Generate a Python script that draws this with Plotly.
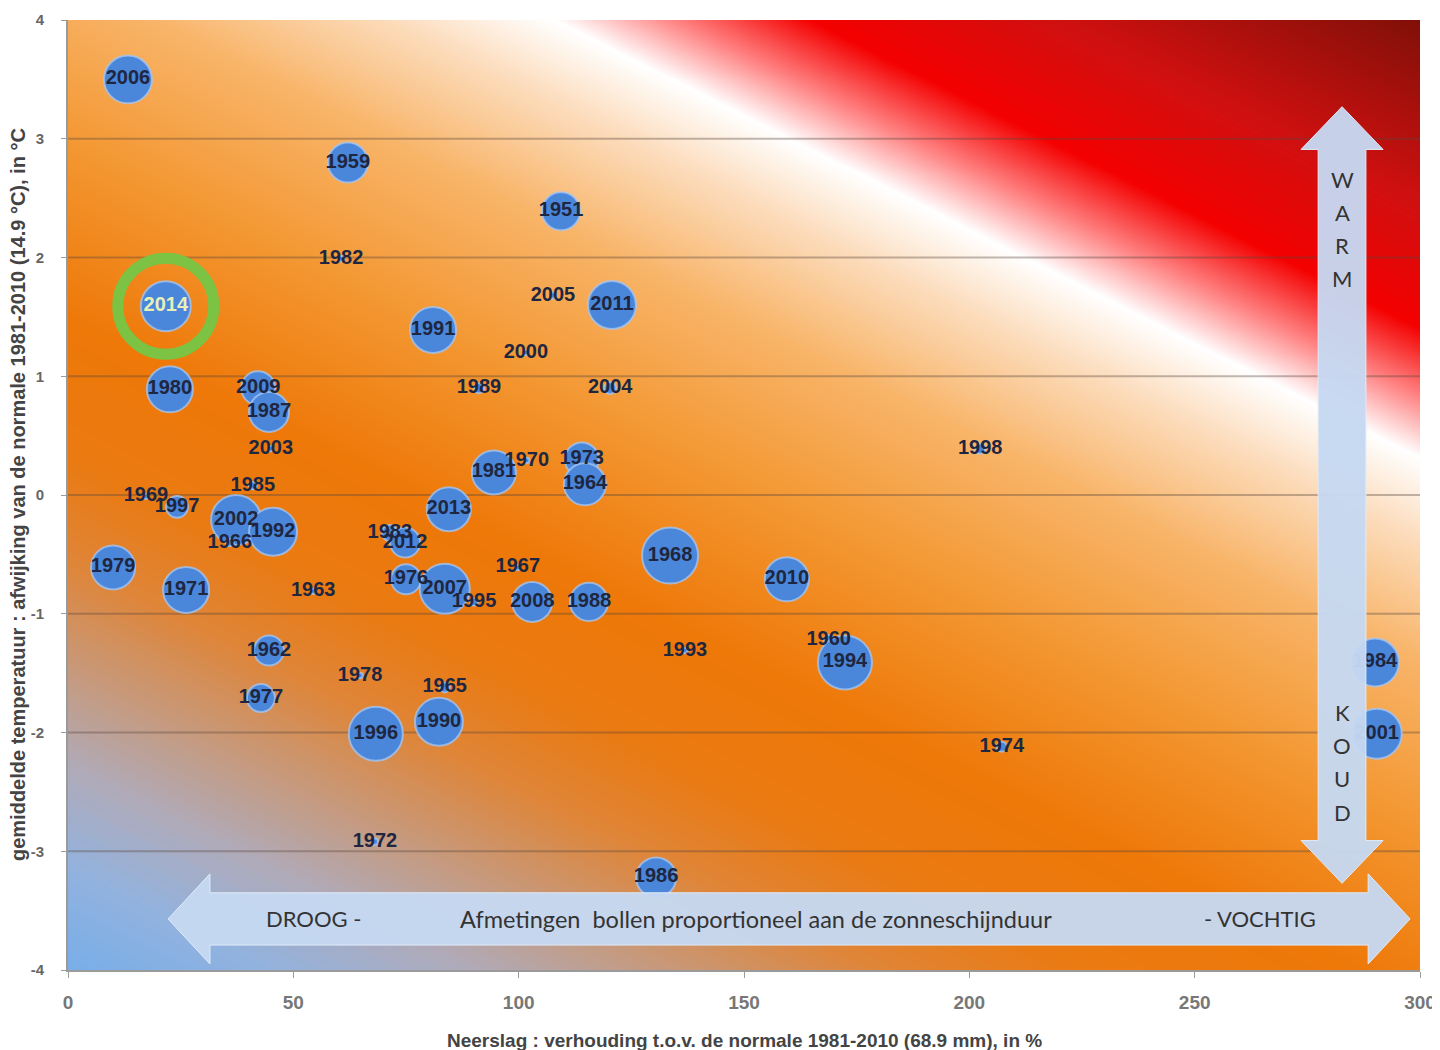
import numpy as np
import plotly.graph_objects as go

# ---------------- data ----------------
jaren = ["2006", "1959", "1951", "1982", "2014", "2005", "2011", "1991", "2000", "1980",
         "2009", "1987", "2003", "1989", "2004", "1998", "1981", "1970", "1973", "1964",
         "2013", "1969", "1997", "1985", "2002", "1992", "1966", "1983", "2012", "1979",
         "1971", "1963", "1976", "2007", "1995", "1967", "2008", "1988", "1968", "2010",
         "1993", "1960", "1994", "1962", "1978", "1965", "1977", "1996", "1990", "1972",
         "1986", "1974", "1984", "2001"]
neerslag = [13.3, 62.1, 109.4, 60.6, 21.7, 107.6, 120.7, 81.0, 101.6, 22.6,
            42.2, 44.6, 45.0, 91.2, 120.3, 202.4, 94.5, 101.8, 114.0, 114.7,
            84.5, 17.3, 24.2, 41.0, 37.3, 45.5, 35.9, 71.4, 74.8, 10.0,
            26.2, 54.4, 75.0, 83.6, 90.1, 99.8, 103.0, 115.6, 133.6, 159.5,
            136.9, 168.8, 172.4, 44.6, 64.8, 83.6, 42.8, 68.3, 82.3, 68.1,
            130.5, 207.2, 290.0, 290.4]
temp_afw = [3.50, 2.80, 2.39, 1.99, 1.59, 1.68, 1.60, 1.39, 1.20, 0.89,
            0.90, 0.70, 0.39, 0.90, 0.90, 0.39, 0.19, 0.29, 0.30, 0.09,
            -0.12, -0.01, -0.10, 0.08, -0.21, -0.31, -0.40, -0.32, -0.40, -0.61,
            -0.80, -0.81, -0.71, -0.79, -0.90, -0.61, -0.90, -0.90, -0.51, -0.71,
            -1.31, -1.22, -1.41, -1.31, -1.52, -1.62, -1.71, -2.01, -1.91, -2.92,
            -3.22, -2.12, -1.41, -2.01]
zonneschijn = [230, 160, 145, 3, 250, 4, 230, 212, 3, 212,
               115, 160, 3, 10, 14, 10, 194, 3, 115, 176,
               194, 3, 48, 6, 250, 230, 6, 26, 90, 194,
               212, 3, 90, 250, 6, 3, 160, 145, 314, 194,
               3, 10, 292, 90, 3, 10, 78, 292, 230, 4,
               160, 10, 230, 250]

x_ticks = [0, 50, 100, 150, 200, 250, 300]
y_ticks = [-4, -3, -2, -1, 0, 1, 2, 3, 4]
y_ticktext = ["-4", "-3", "-2", "-1", "0", "1", "2", "3", "4"]
highlight_jaar = "2014"

x_title = "Neerslag : verhouding t.o.v. de normale 1981-2010 (68.9 mm), in %"
y_title = "gemiddelde temperatuur : afwijking van de normale 1981-2010 (14.9 °C), in °C"

SANS = "Liberation Sans, Arial, sans-serif"

fig = go.Figure()

# ---------------- background gradient ----------------
gx = np.linspace(0, 300, 121)
gy = np.linspace(-4, 4, 81)
A, B = np.meshgrid(gx / 300.0, (gy + 4) / 8.0)
S = A + 1.39 * B
SMAX = 2.39
stops = [
    (0.00, "#78aee8"),
    (0.15, "#92b2de"),
    (0.30, "#b0aab8"),
    (0.45, "#c89878"),
    (0.60, "#df8538"),
    (0.75, "#ea7a12"),
    (0.95, "#ee7808"),
    (1.20, "#f39630"),
    (1.45, "#f8b468"),
    (1.63, "#fcdcbc"),
    (1.75, "#ffffff"),
    (1.84, "#ff8080"),
    (1.94, "#f40000"),
    (2.12, "#d01010"),
    (2.39, "#801008"),
]
bg_scale = [[s / SMAX, c] for s, c in stops]
fig.add_trace(go.Heatmap(x=gx, y=gy, z=S, zmin=0, zmax=SMAX, colorscale=bg_scale,
                         showscale=False, zsmooth="best", hoverinfo="skip"))

# ---------------- grid lines ----------------
glx, gly = [], []
for t in y_ticks[1:-1]:
    glx += [0, 300, None]
    gly += [t, t, None]
fig.add_trace(go.Scatter(x=glx, y=gly, mode="lines",
                         line=dict(color="rgba(90,70,60,0.38)", width=2),
                         hoverinfo="skip", showlegend=False))

# ---------------- bubbles ----------------
txt_cols = ["#e8f0b8" if j == highlight_jaar else "#1e2640" for j in jaren]
fig.add_trace(go.Scatter(
    x=neerslag, y=temp_afw, text=jaren, mode="markers+text",
    textposition="middle center",
    textfont=dict(family=SANS, size=20, color=txt_cols, weight="bold"),
    marker=dict(size=zonneschijn, sizemode="area", sizeref=0.2, sizemin=0,
                opacity=1, color="#4a86da",
                line=dict(color="rgba(165,200,245,0.75)", width=2)),
    hoverinfo="skip", showlegend=False))

# green ring around highlighted year
hi = jaren.index(highlight_jaar)
fig.add_trace(go.Scatter(
    x=[neerslag[hi]], y=[temp_afw[hi]], mode="markers",
    marker=dict(symbol="circle-open", size=96, color="#7cc243", opacity=1,
                line=dict(width=11, color="#7cc243")),
    hoverinfo="skip", showlegend=False))

# ---------------- block arrows ----------------
arrow_fill = "rgba(198,217,241,0.96)"
arrow_line = "rgba(225,235,248,1)"
# horizontal (DROOG - VOCHTIG)
hx0, hx1 = 22.2, 297.8      # tips
hh = 9.3                    # head length (x units)
hyc, hs, hw = -3.57, 0.22, 0.38
hpath = (f"M {hx0},{hyc} L {hx0+hh},{hyc+hw} L {hx0+hh},{hyc+hs} L {hx1-hh},{hyc+hs} "
         f"L {hx1-hh},{hyc+hw} L {hx1},{hyc} L {hx1-hh},{hyc-hw} L {hx1-hh},{hyc-hs} "
         f"L {hx0+hh},{hyc-hs} L {hx0+hh},{hyc-hw} Z")
# vertical (WARM - KOUD)
vxc, vs, vw = 282.7, 5.3, 9.1
vy0, vy1 = -3.27, 3.27
vh = 0.36
vpath = (f"M {vxc},{vy1} L {vxc+vw},{vy1-vh} L {vxc+vs},{vy1-vh} L {vxc+vs},{vy0+vh} "
         f"L {vxc+vw},{vy0+vh} L {vxc},{vy0} L {vxc-vw},{vy0+vh} L {vxc-vs},{vy0+vh} "
         f"L {vxc-vs},{vy1-vh} L {vxc-vw},{vy1-vh} Z")
shapes = [
    dict(type="path", path=vpath, xref="x", yref="y", fillcolor=arrow_fill,
         line=dict(color=arrow_line, width=1), layer="above"),
    dict(type="path", path=hpath, xref="x", yref="y", fillcolor=arrow_fill,
         line=dict(color=arrow_line, width=1), layer="above"),
]

LABF = dict(family="Lato, Open Sans, sans-serif", size=22, color="#333333")
LABF_MID = dict(family="Lato, Open Sans, sans-serif", size=23.5, color="#333333")
annotations = [
    dict(x=54.5, y=hyc, xref="x", yref="y", text="DROOG -", showarrow=False, font=LABF),
    dict(x=152.7, y=hyc, xref="x", yref="y",
         text="Afmetingen&nbsp; bollen proportioneel aan de zonneschijnduur",
         showarrow=False, font=LABF_MID),
    dict(x=264.5, y=hyc, xref="x", yref="y", text="- VOCHTIG", showarrow=False, font=LABF),
]
for i, ch in enumerate("WARM"):
    annotations.append(dict(x=vxc, y=2.66 - i * 0.278, xref="x", yref="y", text=ch,
                            showarrow=False, font=LABF))
for i, ch in enumerate("KOUD"):
    annotations.append(dict(x=vxc, y=-1.83 - i * 0.28, xref="x", yref="y", text=ch,
                            showarrow=False, font=LABF))
# axis titles
annotations.append(dict(x=0.5, y=0, xref="paper", yref="paper", yshift=-70,
                        xanchor="center", yanchor="middle",
                        text=f"<b>{x_title}</b>", showarrow=False,
                        font=dict(family=SANS, size=19, color="#444444")))
annotations.append(dict(x=0, y=0.5, xref="paper", yref="paper", xshift=-50,
                        xanchor="center", yanchor="middle",
                        text=f"<b>{y_title}</b>", showarrow=False, textangle=-90,
                        font=dict(family=SANS, size=20, color="#444444")))

fig.update_layout(
    width=1432, height=1042,
    margin=dict(l=60, r=20, t=12, b=80, autoexpand=False),
    paper_bgcolor="white", plot_bgcolor="white",
    shapes=shapes, annotations=annotations,
    showlegend=False,
    xaxis=dict(range=[0, 300], tickvals=x_ticks, showgrid=False, zeroline=False,
               automargin=False,
               showline=True, linecolor="#9a9a9a", linewidth=2, ticks="outside",
               ticklen=6, tickcolor="#9a9a9a", ticklabelstandoff=8,
               tickfont=dict(family=SANS, size=19, color="#777777", weight="bold")),
    yaxis=dict(range=[-4, 4], tickvals=y_ticks, ticktext=y_ticktext,
               showgrid=False, zeroline=False, automargin=False,
               showline=True, linecolor="#9a9a9a", linewidth=2, ticks="outside",
               ticklen=5, tickcolor="#9a9a9a", ticklabelstandoff=14,
               tickfont=dict(family=SANS, size=15, color="#666666", weight="bold")),
)

fig.write_html("out.html")
